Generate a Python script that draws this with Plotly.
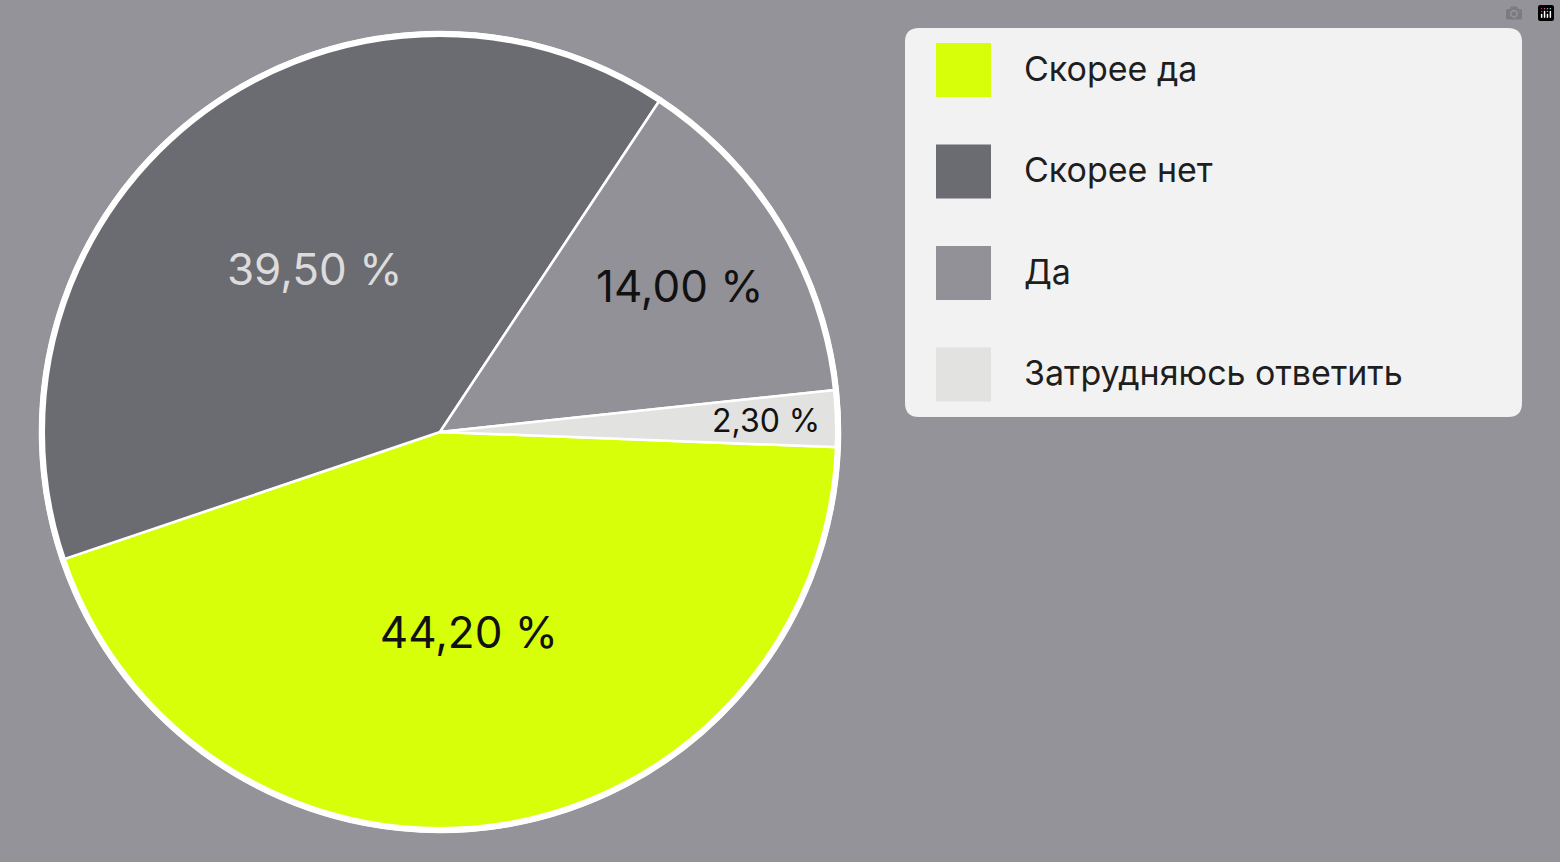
import plotly.graph_objects as go

labels = ["Скорее да", "Скорее нет", "Да", "Затрудняюсь ответить"]
values = [44.2, 39.5, 14.0, 2.3]
colors = ["#d7ff0a", "#6b6b72", "#929197", "#e2e2e0"]
text_colors = ["#111111", "#dcdcdc", "#111111", "#111111"]

W, H = 1560, 862
def px(x): return x / W
def py(y): return 1 - y / H

fig = go.Figure(go.Pie(
    labels=labels, values=values, sort=False, direction="clockwise", rotation=92.2,
    marker=dict(colors=colors, line=dict(color="white", width=2.5)),
    texttemplate=["%{value:.2f} %", "%{value:.2f} %", "%{value:.2f} %", ""],
    textposition="inside", insidetextorientation="horizontal",
    textfont=dict(color=text_colors, size=44, family="Inter"),
    domain=dict(x=[px(40), px(840)], y=[py(832), py(32)]),
    showlegend=False, hoverinfo="label+value",
))

shapes = [dict(type="circle", xref="paper", yref="paper",
               x0=px(42), x1=px(838), y0=py(830), y1=py(34),
               line=dict(color="white", width=6))]

x0, x1, y0, y1, r = 905, 1522, 28, 417, 14
path = (f"M {px(x0+r)},{py(y0)} L {px(x1-r)},{py(y0)} Q {px(x1)},{py(y0)} {px(x1)},{py(y0+r)} "
        f"L {px(x1)},{py(y1-r)} Q {px(x1)},{py(y1)} {px(x1-r)},{py(y1)} "
        f"L {px(x0+r)},{py(y1)} Q {px(x0)},{py(y1)} {px(x0)},{py(y1-r)} "
        f"L {px(x0)},{py(y0+r)} Q {px(x0)},{py(y0)} {px(x0+r)},{py(y0)} Z")
shapes.append(dict(type="path", xref="paper", yref="paper", path=path,
                   fillcolor="#f2f2f2", line=dict(width=0), layer="below"))

annotations = [dict(xref="paper", yref="paper", x=px(766), y=py(420),
                    text=f"{values[3]:.2f}".replace(".", ",") + " %", showarrow=False,
                    font=dict(size=32, color="#111111", family="Inter"))]
for i, (lab, col) in enumerate(zip(labels, colors)):
    cy = 70 + i * 101.5
    shapes.append(dict(type="rect", xref="paper", yref="paper",
                       x0=px(936), x1=px(991), y0=py(cy + 27), y1=py(cy - 27),
                       fillcolor=col, line=dict(width=0)))
    annotations.append(dict(xref="paper", yref="paper", x=px(1022), y=py(cy - 2),
                            text=lab, showarrow=False, xanchor="left", yanchor="middle",
                            font=dict(size=34, color="#1e1e1e", family="Inter")))

fig.update_layout(width=W, height=H, margin=dict(l=0, r=0, t=0, b=0),
                  paper_bgcolor="#949399", plot_bgcolor="#949399",
                  separators=", ", shapes=shapes, annotations=annotations,
                  font=dict(family="Inter"))
fig.write_html("out.html", post_script="document.body.style.margin='0';document.body.style.background='#949399';")
